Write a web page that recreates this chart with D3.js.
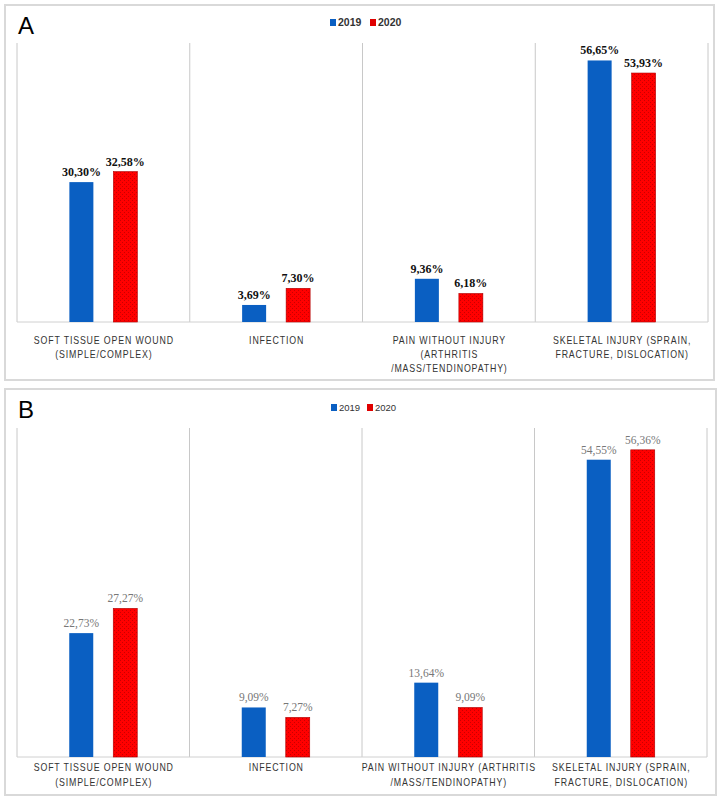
<!DOCTYPE html>
<html><head><meta charset="utf-8">
<script src="https://cdn.jsdelivr.net/npm/d3@7"></script>
<style>body{margin:0;background:#fff;}svg{display:block;}</style>
</head><body>
<script>
const categoriesA = [
  ["SOFT TISSUE OPEN WOUND","(SIMPLE/COMPLEX)"],
  ["INFECTION"],
  ["PAIN WITHOUT INJURY","(ARTHRITIS","/MASS/TENDINOPATHY)"],
  ["SKELETAL INJURY (SPRAIN,","FRACTURE, DISLOCATION)"]
];
const categoriesB = [
  ["SOFT TISSUE OPEN WOUND","(SIMPLE/COMPLEX)"],
  ["INFECTION"],
  ["PAIN WITHOUT INJURY (ARTHRITIS","/MASS/TENDINOPATHY)"],
  ["SKELETAL INJURY (SPRAIN,","FRACTURE, DISLOCATION)"]
];
const seriesNames = ["2019","2020"];
const a2019 = [30.30, 3.69, 9.36, 56.65];
const a2020 = [32.58, 7.30, 6.18, 53.93];
const b2019 = [22.73, 9.09, 13.64, 54.55];
const b2020 = [27.27, 7.27, 9.09, 56.36];

const W = 722, H = 800;
const svg = d3.select("body").append("svg").attr("width", W).attr("height", H);
const defs = svg.append("defs");
const pat = defs.append("pattern").attr("id","dots").attr("patternUnits","userSpaceOnUse")
  .attr("width",4).attr("height",4);
pat.append("rect").attr("width",4).attr("height",4).attr("fill","#ff0000");
pat.append("rect").attr("x",0).attr("y",0).attr("width",1).attr("height",1).attr("fill","#c80000");
pat.append("rect").attr("x",2).attr("y",2).attr("width",1).attr("height",1).attr("fill","#c80000");

const fmt = v => d3.format(".2f")(v).replace(".", ",") + "%";

function panel(cfg) {
  const g = svg.append("g");
  g.append("rect").attr("x", cfg.bx).attr("y", cfg.by).attr("width", cfg.bw).attr("height", cfg.bh)
    .attr("fill","#fff").attr("stroke","#d9d9d9").attr("stroke-width",2);
  g.append("text").attr("x", cfg.bx + 13).attr("y", cfg.by + 29).text(cfg.letter)
    .attr("font-family","Liberation Sans, Arial, sans-serif").attr("font-size",24).attr("fill","#000");

  const x = d3.scaleBand().domain(d3.range(4)).range([cfg.left, cfg.right]);
  const bw = x.bandwidth();
  const xs = d3.scaleBand().domain(seriesNames).range([bw/2 - 34, bw/2 + 34]).paddingInner(0.4545);
  const y = d3.scaleLinear().domain([0, cfg.ymax]).range([cfg.base, cfg.top]);

  const seps = d3.range(5).map(i => cfg.left + i * bw);
  g.selectAll("line.sep").data(seps).join("line")
    .attr("x1", d => d).attr("x2", d => d).attr("y1", cfg.top - 2).attr("y2", cfg.base)
    .attr("stroke","#c8c8c8").attr("stroke-width",1);
  g.append("line").attr("x1", cfg.left).attr("x2", cfg.right).attr("y1", cfg.base).attr("y2", cfg.base)
    .attr("stroke","#d0d0d0").attr("stroke-width",1);

  const data = [];
  cfg.values.forEach((arr, si) => arr.forEach((v, ci) => data.push({s: seriesNames[si], c: ci, v})));
  g.selectAll("rect.bar").data(data).join("rect")
    .attr("x", d => x(d.c) + xs(d.s))
    .attr("y", d => y(d.v))
    .attr("width", xs.bandwidth())
    .attr("height", d => cfg.base - y(d.v))
    .attr("fill", d => d.s === "2019" ? "#0a5fc2" : "url(#dots)")
    .attr("stroke", d => d.s === "2019" ? "none" : "#b00000")
    .attr("stroke-width", 0.6);
  g.selectAll("text.val").data(data).join("text")
    .attr("x", d => x(d.c) + xs(d.s) + xs.bandwidth() / 2)
    .attr("y", d => y(d.v) - 6)
    .attr("text-anchor","middle")
    .attr("font-family","Liberation Serif, Times New Roman, serif")
    .attr("font-size", cfg.valSize)
    .attr("font-weight", cfg.valBold ? "bold" : "normal")
    .attr("fill", cfg.valColor)
    .text(d => fmt(d.v));

  cfg.cats.forEach((lines, ci) => {
    const t = g.append("text").attr("text-anchor","middle")
      .attr("transform", `translate(${x(ci) + bw/2 + 0.5},0) scale(0.84,1)`)
      .attr("font-family","Liberation Sans, Arial, sans-serif")
      .attr("font-size",10.5).attr("letter-spacing",1).attr("fill","#333");
    lines.forEach((ln, li) => t.append("tspan").attr("x", 0)
      .attr("y", cfg.labY + li * cfg.labGap).text(ln));
  });

  const lg = g.append("g").attr("font-family","Liberation Sans, Arial, sans-serif")
    .attr("font-size", cfg.legSize).attr("font-weight", cfg.legBold ? "bold" : "normal").attr("fill","#333");
  seriesNames.forEach((s, i) => {
    const lx = cfg.legX + i * cfg.legStep;
    lg.append("rect").attr("x", lx).attr("y", cfg.legY - 7).attr("width",6).attr("height",7)
      .attr("fill", i === 0 ? "#0a5fc2" : "#e00000");
    lg.append("text").attr("x", lx + 8).attr("y", cfg.legY).text(s);
  });
}

panel({letter:"A", bx:5, by:5, bw:709, bh:375, left:17, right:708, top:45, base:322, ymax:60,
  values:[a2019,a2020], cats:categoriesA, labY:344, labGap:14, valSize:12, valBold:true, valColor:"#111",
  legX:330, legStep:40, legY:26, legSize:10.5, legBold:true});
panel({letter:"B", bx:5, by:389, bw:711, bh:406, left:17, right:707, top:430, base:757, ymax:60,
  values:[b2019,b2020], cats:categoriesB, labY:771, labGap:15, valSize:11.5, valBold:false, valColor:"#777",
  legX:331, legStep:36, legY:411, legSize:9.5, legBold:false});
</script>
</body></html>
